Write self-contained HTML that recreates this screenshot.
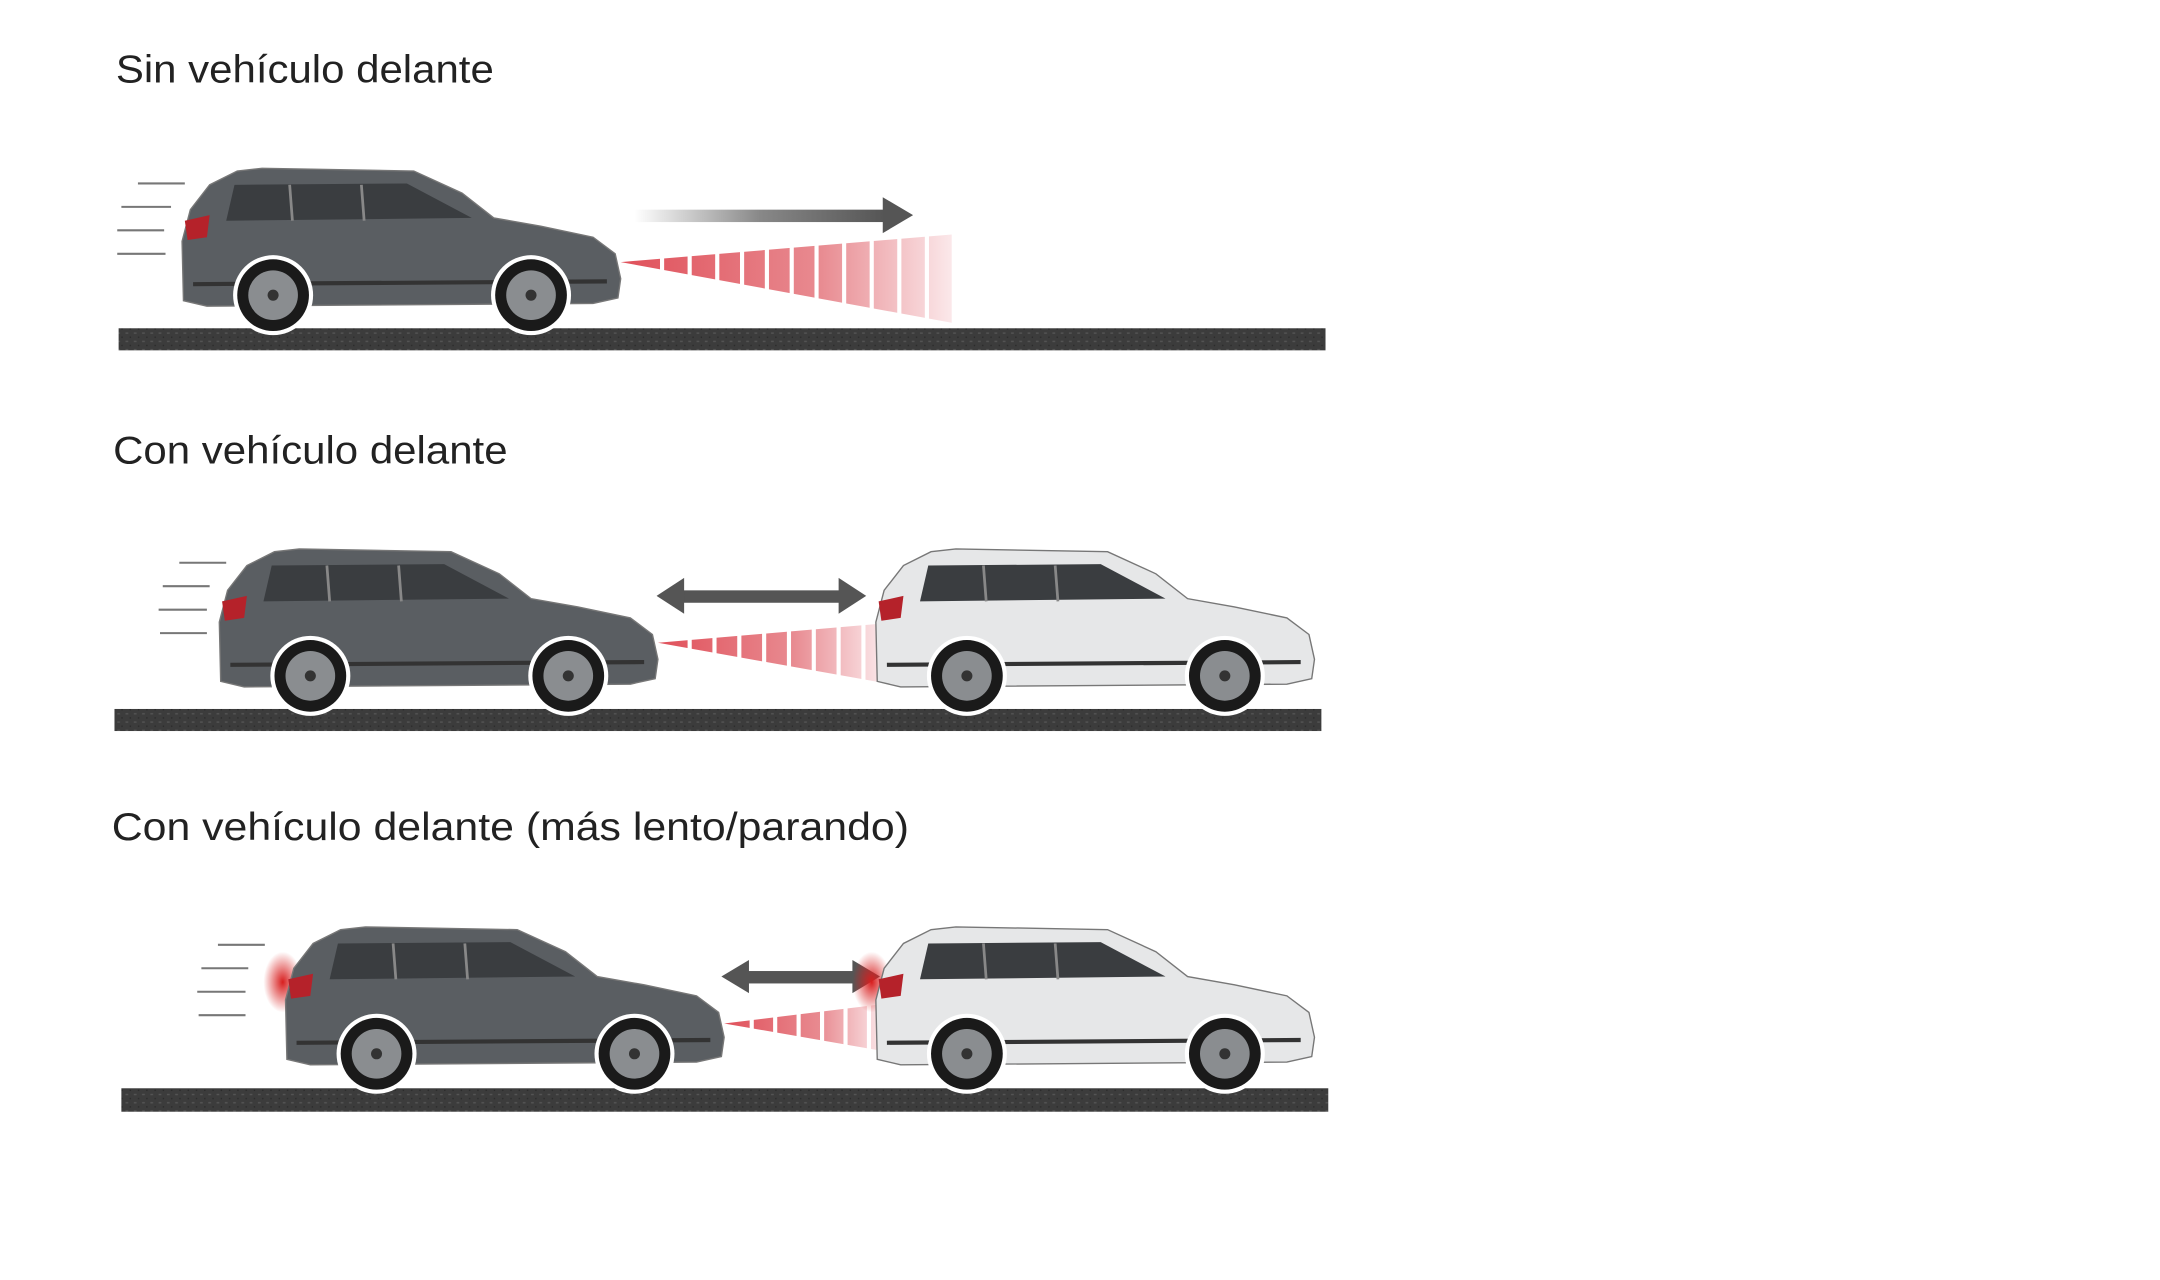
<!DOCTYPE html>
<html><head><meta charset="utf-8"><style>html,body{margin:0;padding:0;background:#fff}svg{display:block}</style></head>
<body>
<svg width="2160" height="1280" viewBox="0 0 1566 928" preserveAspectRatio="none" xmlns="http://www.w3.org/2000/svg">
<defs>
<linearGradient id="ag" x1="0" x2="1"><stop offset="0" stop-color="#fff"/><stop offset="0.5" stop-color="#888"/><stop offset="1" stop-color="#555"/></linearGradient>
<linearGradient id="rg" x1="0" x2="1"><stop offset="0" stop-color="#e0505a"/><stop offset="0.6" stop-color="#e88a90"/><stop offset="1" stop-color="#fbe8ea"/></linearGradient>
<radialGradient id="glow"><stop offset="0" stop-color="#d81e1e"/><stop offset="1" stop-color="#d81e1e" stop-opacity="0"/></radialGradient>
<pattern id="road" width="6" height="6" patternUnits="userSpaceOnUse"><rect width="6" height="6" fill="#3c3c3c"/><rect x="1" y="1" width="2" height="1" fill="#555"/><rect x="4" y="4" width="1" height="1" fill="#2a2a2a"/></pattern>
<symbol id="car" viewBox="0 0 320 122" overflow="visible">
<path d="M3,98 L2,55 L8,32 L22,14 L42,4 L60,2 L170,4 L205,20 L228,38 L262,44 L300,52 L316,64 L320,82 L318,96 L300,100 L20,102 Z" fill="currentColor" stroke="#777" stroke-width="1"/>
<path d="M40,14 L165,13 L212,38 L34,40 Z" fill="#3a3d40"/>
<path d="M80,14 L82,40 M132,14 L134,40" stroke="#888" stroke-width="2"/>
<path d="M4,40 L22,36 L20,52 L6,54 Z" fill="#b5222a"/>
<path d="M10,86 L310,84" stroke="#333" stroke-width="3"/>
<circle cx="68" cy="94" r="29" fill="#fff"/>
<circle cx="255" cy="94" r="29" fill="#fff"/>
<circle cx="68" cy="94" r="26" fill="#1a1a1a"/>
<circle cx="255" cy="94" r="26" fill="#1a1a1a"/>
<circle cx="68" cy="94" r="18" fill="#8a8d90"/>
<circle cx="255" cy="94" r="18" fill="#8a8d90"/>
<circle cx="68" cy="94" r="4" fill="#333"/>
<circle cx="255" cy="94" r="4" fill="#333"/>
</symbol>
</defs>
<g font-family="Liberation Sans, sans-serif" font-size="28" fill="#222">
<text x="84" y="60" textLength="274" lengthAdjust="spacingAndGlyphs">Sin vehículo delante</text>
<text x="82" y="336" textLength="286" lengthAdjust="spacingAndGlyphs">Con vehículo delante</text>
<text x="81" y="609" textLength="578" lengthAdjust="spacingAndGlyphs">Con vehículo delante (más lento/parando)</text>
</g>
<g stroke="#777" stroke-width="1.5">
<path d="M100,133H134M88,150H124M85,167H119M85,184H120"/>
<path d="M130,408H164M118,425H152M115,442H150M116,459H150"/>
<path d="M158,685H192M146,702H180M143,719H178M144,736H178"/>
</g>
<rect x="86" y="238" width="875" height="16" fill="url(#road)"/>
<rect x="83" y="514" width="875" height="16" fill="url(#road)"/>
<rect x="88" y="789" width="875" height="17" fill="url(#road)"/>
<polygon points="450,190 690,170 690,234" fill="url(#rg)"/>
<g stroke="#fff" stroke-width="3"><path d="M480,180V200M500,178V204M520,176V207M538,175V210M556,173V213M574,172V216M592,170V219M612,168V222M632,166V226M652,165V229M672,163V233"/></g>
<rect x="460" y="152" width="182" height="9" fill="url(#ag)"/>
<polygon points="640,143 662,156 640,169" fill="#555"/>
<use href="#car" x="130" y="120" width="320" height="122" color="#5a5e62"/>
<polygon points="477,466 640,452 640,495" fill="url(#rg)"/>
<g stroke="#fff" stroke-width="3"><path d="M500,460V472M518,458V476M536,457V479M554,455V482M572,454V485M590,453V488M608,452V491M626,451V494"/></g>
<rect x="494" y="428" width="116" height="9" fill="#555"/>
<polygon points="476,432 496,419 496,445" fill="#555"/>
<polygon points="628,432 608,419 608,445" fill="#555"/>
<use href="#car" x="157" y="396" width="320" height="122" color="#5a5e62"/>
<use href="#car" x="633" y="396" width="320" height="122" color="#e6e7e8"/>
<polygon points="525,742 640,728 640,762" fill="url(#rg)"/>
<g stroke="#fff" stroke-width="3"><path d="M545,737V747M562,735V750M579,733V753M596,731V755M613,730V758M630,729V761"/></g>
<rect x="540" y="704" width="80" height="9" fill="#555"/>
<polygon points="523,708 543,696 543,720" fill="#555"/>
<polygon points="638,708 618,696 618,720" fill="#555"/>
<ellipse cx="205" cy="712" rx="14" ry="22" fill="url(#glow)"/>
<ellipse cx="632" cy="712" rx="14" ry="22" fill="url(#glow)"/>
<use href="#car" x="205" y="670" width="320" height="122" color="#5a5e62"/>
<use href="#car" x="633" y="670" width="320" height="122" color="#e6e7e8"/>
</svg>
</body></html>
